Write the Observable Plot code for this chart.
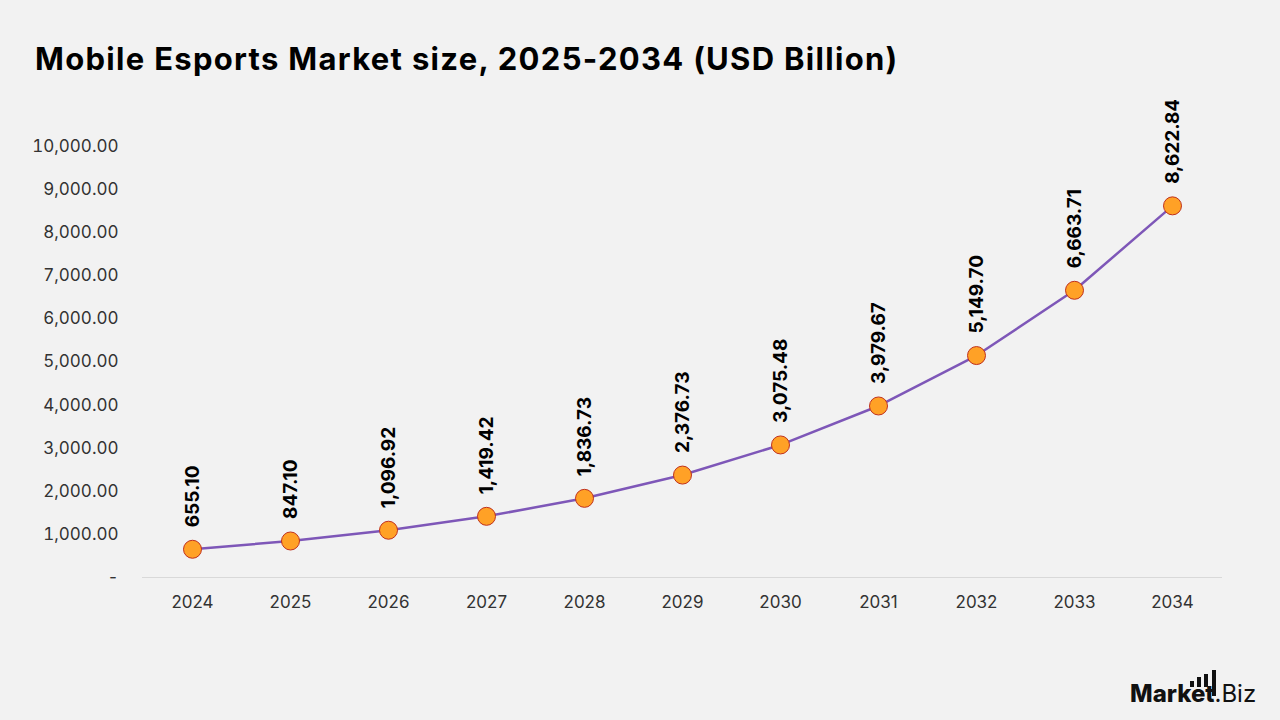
<!DOCTYPE html>
<html>
<head>
<meta charset="utf-8">
<script src="https://cdn.jsdelivr.net/npm/d3@7"></script>
<script src="https://cdn.jsdelivr.net/npm/@observablehq/plot@0.6"></script>
<style>
  html, body { margin: 0; padding: 0; background: #f2f2f2; }
  body { width: 1280px; height: 720px; position: relative; overflow: hidden; font-family: Inter, "Open Sans", sans-serif; }
  #title { position: absolute; left: 35px; top: 40px; font-size: 31px; font-weight: 700; color: #000; letter-spacing: 1.3px; white-space: nowrap; }
  #chart { position: absolute; left: 0; top: 100px; }
  #logo { position: absolute; left: 1130px; top: 679px; font-size: 24px; color: #111; white-space: nowrap; }
  #logo b { font-weight: 800; }
  .bar { position: absolute; background: #111; width: 4px; }
</style>
</head>
<body>
<div id="title">Mobile Esports Market size, 2025-2034 (USD Billion)</div>
<div id="chart"></div>
<div id="logo"><b>Market</b>.Biz</div>
<div class="bar" style="left:1190px; top:681px; height:6px;"></div>
<div class="bar" style="left:1197px; top:677px; height:10px;"></div>
<div class="bar" style="left:1204px; top:674px; height:13px;"></div>
<div class="bar" style="left:1212px; top:670px; height:26px;"></div>
<script>
const years = ["2024","2025","2026","2027","2028","2029","2030","2031","2032","2033","2034"];
const values = [655.10, 847.10, 1096.92, 1419.42, 1836.73, 2376.73, 3075.48, 3979.67, 5149.70, 6663.71, 8622.84];
const yTicks = [0,1000,2000,3000,4000,5000,6000,7000,8000,9000,10000];

const data = years.map((y, i) => ({year: y, value: values[i]}));
const fmt = d3.format(",.2f");

const chart = Plot.plot({
  width: 1280,
  height: 540,
  marginLeft: 142,
  marginRight: 58,
  marginTop: 46,
  marginBottom: 63,
  style: { background: "transparent", fontFamily: "Inter, 'Open Sans', sans-serif" },
  x: { type: "point", domain: years, padding: 0.5, label: null },
  y: { domain: [0, 10000], label: null },
  marks: [
    Plot.ruleY([0], { stroke: "#d9d9d9", strokeWidth: 1 }),
    Plot.axisY({ ticks: yTicks, tickSize: 0, tickPadding: 24, fontSize: 17, fill: "#333",
      tickFormat: d => d === 0 ? "-" : fmt(d), label: null }),
    Plot.axisX({ tickSize: 0, tickPadding: 18, fontSize: 17, fill: "#333", label: null }),
    Plot.line(data, { x: "year", y: "value", stroke: "#7e57b8", strokeWidth: 2.5 }),
    Plot.dot(data, { x: "year", y: "value", r: 9, fill: "#ffa126", stroke: "#c0301c", strokeWidth: 1 }),
    Plot.text(data, { x: "year", y: "value", text: d => fmt(d.value), rotate: -90, textAnchor: "start",
      dy: -22, fontSize: 19, fontWeight: 700, fill: "#000" })
  ]
});
document.getElementById("chart").appendChild(chart);
</script>
</body>
</html>
